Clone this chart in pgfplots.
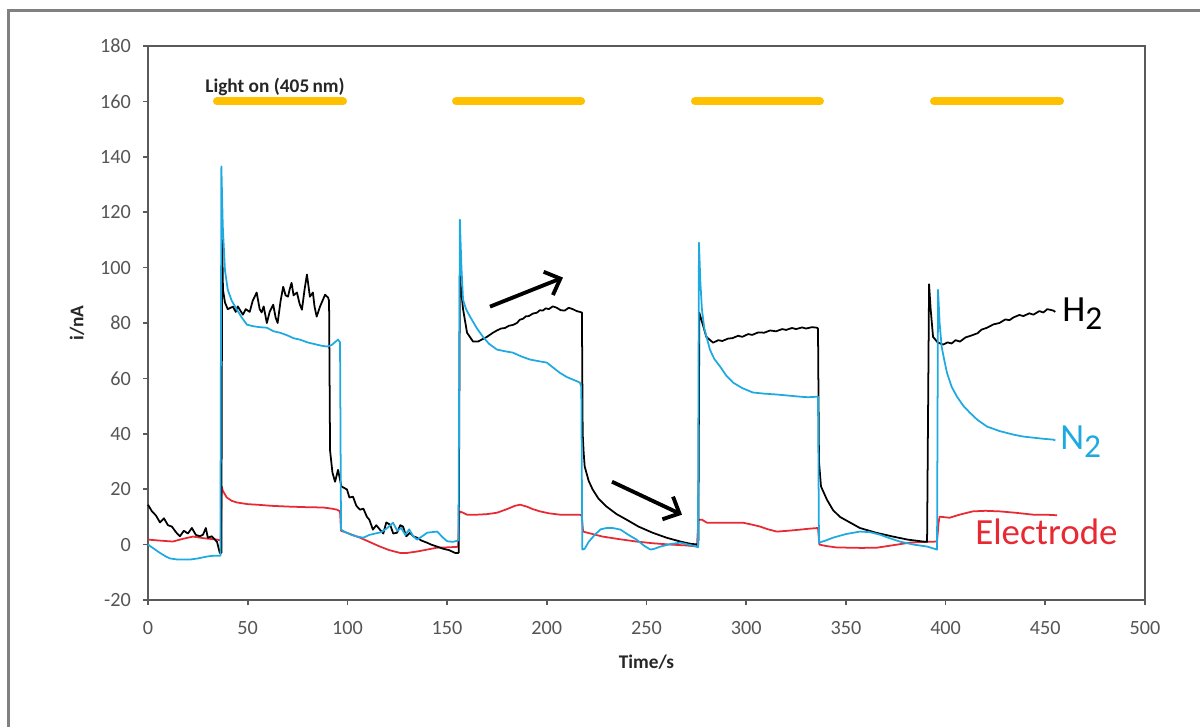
\documentclass[border=0pt]{standalone}
\usepackage{pgfplots}
\pgfplotsset{compat=1.18}
\usepackage{fontspec}
\setmainfont{Carlito}
\usetikzlibrary{arrows.meta}
\definecolor{axisgray}{RGB}{90,90,90}
\definecolor{framegray}{RGB}{128,128,128}
\definecolor{ticktext}{RGB}{85,85,85}
\definecolor{nblue}{RGB}{30,170,225}
\definecolor{ered}{RGB}{232,40,50}
\definecolor{lightor}{RGB}{255,192,0}
\begin{document}
\begin{tikzpicture}[x=1cm,y=1cm]
\useasboundingbox (0,0) rectangle (24,14.52);
\draw[framegray, line width=0.06cm] (0.18,-1) -- (0.18,14.30) -- (25,14.30);
\begin{axis}[
  at={(2.96cm,2.52cm)}, anchor=south west,
  scale only axis, width=19.94cm, height=11.08cm,
  xmin=0, xmax=500, ymin=-20, ymax=180,
  xtick={0,50,...,500}, ytick={-20,0,...,180},
  xtick pos=bottom, ytick pos=left,
  tick align=outside, major tick length=0.1cm,
  axis line style={draw=axisgray, line width=1.4pt},
  tick style={draw=axisgray, line width=1pt},
  /pgf/number format/assume math mode=true,
  ticklabel style={font=\fontsize{11.5}{13}\selectfont, text=ticktext},
  xticklabel style={yshift=-0.2cm},
  yticklabel style={xshift=-0.12cm},
  xlabel={\textbf{Time/s}}, ylabel={\textbf{i/nA}},
  xlabel style={font=\fontsize{11}{13}\selectfont, text=black!85, at={(axis description cs:0.5,-0.112)}, anchor=center},
  ylabel style={font=\fontsize{11}{13}\selectfont, text=black!85, at={(axis description cs:-0.0712,0.5)}, anchor=center, rotate=0},
  clip=false,
]
% light-on bars
\addplot[lightor, line width=0.16cm, line cap=round] coordinates {(34.6,160)(97.8,160)};
\addplot[lightor, line width=0.16cm, line cap=round] coordinates {(154.5,160)(217.2,160)};
\addplot[lightor, line width=0.16cm, line cap=round] coordinates {(274.3,160)(337,160)};
\addplot[lightor, line width=0.16cm, line cap=round] coordinates {(394.2,160)(457.4,160)};
% Electrode
\addplot[ered, line width=1pt, line join=round] coordinates {
(0,1.8)(5,1.5)(12.5,1.1)(17,2)(22.6,2.9)(28,2.3)(34.6,1.8)(36.5,1.5)(37,21)(37.5,19.5)(39.5,17)(42,15.8)(44.6,15.2)(50,14.6)(54.7,14.4)(62,14)(71.2,13.7)(80,13.5)(87.8,13.4)(92,13)(94.8,12.6)(96.3,12)(96.8,5)(100,4.2)(106.3,2.5)(111,1)(116.3,-0.7)(121,-2)(126.4,-3)(130,-3)(134.9,-2.5)(140,-1.8)(145,-1.1)(150,-1)(155.5,-0.8)(156.2,12)(158,11.5)(160,10.8)(165,10.8)(170,11)(175,11.5)(180,12.8)(184,14)(186.6,14.4)(190,13.7)(193,12.8)(196.6,12)(201,11.3)(206.6,10.8)(212,10.8)(216.6,10.8)(217.5,10.5)(218.2,4.7)(223,3.8)(228,2.9)(236,2)(245,1.1)(253,0.5)(262,0)(270,-0.3)(275.3,-0.7)(276,9)(277.8,9)(280.3,7.9)(290,7.9)(298.4,7.9)(303,7.2)(307,6.5)(311,5.5)(315.4,4.7)(321,5)(327,5.4)(331,5.7)(336,6)(336.7,0)(340,-0.5)(345,-1)(350.5,-1.1)(358,-1.2)(365.6,-1.1)(373,-0.3)(382,0.7)(390,1)(395.7,1.1)(396.5,8)(397,10.1)(398,10)(402,9.7)(407,10.8)(413.7,12)(420,12.2)(427,12)(435,11.5)(444,10.8)(450,10.8)(455.9,10.6)
};
% H2
\addplot[black, line width=1pt, line join=round] coordinates {
(0,14.4)(2,12)(4,10.5)(6,8)(8,9.5)(10,7)(12,6.5)(14,4.5)(16,3)(18,5)(20,4)(22,6)(24,3.5)(26,3)(27.6,3.6)(29,6)(30,2.5)(32,3)(34.6,1)(36,-3)(36.8,-3)(37.2,110)(37.6,92)(38.6,87.4)(40,85)(42.6,85.9)(44,84)(45,86)(47.6,83)(49,85)(51,84)(52.5,88)(54.5,91)(56,85)(57,83.8)(58,86)(59.6,80)(61,84)(62.8,86.6)(64,82)(65,80)(66.5,88)(67.8,93.1)(69,90)(70.2,89.5)(71,92)(72,94.5)(73,90)(74.7,91)(76,87)(77.2,84.8)(78.5,92)(79.7,97.5)(81.2,89.5)(82.7,91)(83.5,86)(84.6,82.3)(86.3,86)(87.5,88)(88.8,90.2)(90.3,89.2)(90.8,88)(91.3,34)(92.5,26)(93.8,22.7)(95.3,27)(97,21)(99.8,19.9)(101,17)(102.8,17.3)(104.5,14)(106.3,12.6)(108,13)(109.8,10)(111,9)(112.8,5.4)(114.5,7)(116.3,5.4)(118,4)(119.5,8)(121.4,7.2)(123,4)(124.9,4.3)(126.5,7)(127.9,6.5)(129.5,3)(131.4,4.3)(133,3)(134.9,2.5)(137,1.5)(139.9,0.7)(142,0)(144.9,-0.7)(148,-1.5)(151,-2)(154,-3)(155.8,-3)(156.4,97)(157,92)(158,85)(160,76.5)(163,73.3)(165.5,73.3)(170,75)(173,76.5)(175,77.3)(177,78)(179,78.2)(181,79)(183,79.3)(185,80)(186.5,81.2)(188,81.5)(189.5,82.4)(191,82.5)(193,83.4)(195,83.7)(196.5,84.6)(198,84.5)(199.5,85.3)(201,85)(203,86)(205,85.5)(207,84.6)(209,84.5)(211,85.5)(213,85)(215,84.3)(217.6,83.8)(218,40)(218.5,33)(219,28.2)(221,23)(223,19.9)(226,16.5)(230,13.7)(235,11)(240,9)(246,6.5)(253,4.3)(260,2.5)(267,1.1)(272,0.3)(276,0)(276.5,83.7)(278,80)(280,75)(283.4,72.9)(286,73.8)(288,73.5)(291,74.4)(293,74.5)(296,75.4)(298,75)(301,76)(303,75.7)(306,76.6)(309,76.5)(312,77.3)(315,77)(318,77.8)(320,77.5)(323,78.2)(325,77.8)(328,78.4)(330,78)(333,78.5)(335.5,78.3)(336,78)(336.5,30)(337.5,21)(340.5,16.2)(343.5,12.5)(347,10)(352,8)(357,6)(365,4.3)(373.6,2.9)(381,1.8)(388.7,1.1)(390.7,1)(391.7,94)(392.5,85)(393.7,75)(396,73)(398.7,72.2)(401,73)(403,72.6)(405,73.8)(407.2,73.3)(410,74.8)(413,75.5)(416,76.3)(418,77.6)(420.8,78.3)(424,79.5)(427,80)(430,81.3)(432,81)(434,82)(437,82.9)(439,82.5)(442,83.5)(444,83)(447,84.3)(449,83.8)(451,85)(454,84.5)(455,84)
};
% N2
\addplot[nblue, line width=1pt, line join=round] coordinates {
(0,0)(3,-1.5)(6,-3)(9,-4.3)(11,-5)(15,-5.4)(21,-5.4)(25,-5)(29.6,-4.3)(33,-4)(35,-4)(36.3,-4)(36.8,136.5)(37.5,115)(38.6,99)(40,92)(42,88)(44.6,84.8)(47,82)(49.6,79.4)(53,78.8)(56,78.5)(59.6,78.3)(63,77)(66.2,76.5)(70,75.5)(73,74.5)(76.2,74)(80,73)(84.6,72.2)(87,71.8)(89.8,71.5)(92,72)(95.3,74)(96.3,73)(96.8,5.4)(99,4.5)(102,3.5)(104.8,2.9)(108,2.5)(111,3.5)(114,4)(117,4.5)(120,6)(122.9,7.9)(125,5)(127,6)(129,3.5)(131,5.5)(133,3)(135,1.8)(137.5,3)(140,4.3)(145,4.7)(148,2.5)(150,1.2)(153,1)(155.7,1.5)(156.4,117.3)(157.2,100)(158,88.4)(159.5,85)(161.5,82.3)(165,78)(168,75)(171,72.5)(175,70.4)(179,69.8)(183,69.3)(187,68)(191.6,66.8)(196,66.2)(200,65.7)(203,64)(206.6,62)(210,60.5)(215,59)(216.6,58.5)(217.3,57)(217.8,-1.8)(219,-1.5)(221,1)(224,3.5)(227,5.5)(230,6)(233,6)(237,5.4)(241,3.5)(245,1.8)(249,-0.5)(252,-1.8)(254,-1.5)(257,-0.7)(262,0.2)(267,0.7)(271,0)(275,-0.7)(275.8,-1)(276.3,109)(277,95)(277.8,84.8)(279,78)(281.8,70.4)(284,67)(286.9,64.3)(290,61)(293.4,58.5)(298,56.5)(303.4,54.9)(309,54.5)(315,54.2)(321,53.8)(327,53.4)(331,53.2)(336,53.4)(336.5,0.7)(340,1.5)(343.5,2.5)(350,3.8)(357,4.7)(362,4.5)(367,3.6)(372,2.3)(377,1.1)(384,0)(390.7,-0.7)(395.7,-1.8)(396.2,92)(397,80)(398,71.5)(399.5,66)(400.7,62)(403,57)(405.7,53.4)(409,50)(412.2,47.6)(416,45)(420.8,42.6)(427,41)(434,39.7)(439,39)(444,38.6)(449,38.2)(454,37.9)(455,37.6)
};
% annotations
\node[anchor=west, inner sep=0, font=\bfseries\fontsize{11}{13}\selectfont, text=black!85] at (axis cs:28.6,165.3) {Light on (405\,nm)};
\draw[black, line width=2.2pt, -{Straight Barb[length=2.6mm,width=5mm]}] (axis cs:171.5,85.9) -- (axis cs:208.1,96.4);
\draw[black, line width=2.2pt, -{Straight Barb[length=2.6mm,width=5mm]}] (axis cs:232.7,22.7) -- (axis cs:267.8,10.8);
\node[anchor=base west, inner sep=0, font=\fontsize{21}{24}\selectfont, text=black] at (axis cs:458.4,80.5) {H\raisebox{-0.16cm}{\fontsize{19}{20}\selectfont 2}};
\node[anchor=base west, inner sep=0, font=\fontsize{21}{24}\selectfont, text=nblue] at (axis cs:457.4,34.3) {N\raisebox{-0.16cm}{\fontsize{19}{20}\selectfont 2}};
\node[anchor=base west, inner sep=0, font=\fontsize{21}{24}\selectfont, text=ered] at (axis cs:414.7,0) {Electrode};
\end{axis}
\end{tikzpicture}
\end{document}
